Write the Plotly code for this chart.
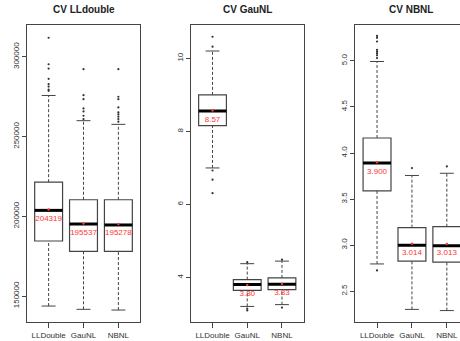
import plotly.graph_objects as go

W, H = 460, 341
categories = ["LLDouble", "GauNL", "NBNL"]
titles = ["CV LLdouble", "CV GauNL", "CV NBNL"]

# Panel 1: CV LLdouble
p1_lo = [143750, 141700, 141250]
p1_q1 = [184560, 178100, 178100]
p1_med = [203750, 195200, 194600]
p1_q3 = [221440, 210400, 210400]
p1_hi = [275800, 260000, 257700]
p1_mean = [204319, 195537, 195278]
p1_mean_labels = ["204319", "195537", "195278"]
p1_out = [
    [278750, 279500, 281400, 282900, 286250, 292700, 295400, 312000],
    [261000, 263100, 265800, 267700, 273500, 276000, 292300],
    [259400, 261000, 262500, 264000, 265200, 268300, 273500, 275000, 292300],
]
p1_ticks = [150000, 200000, 250000, 300000]
p1_ticklabels = ["150000", "200000", "250000", "300000"]

# Panel 2: CV GauNL
p2_lo = [7.0, 3.21, 3.26]
p2_q1 = [8.16, 3.65, 3.67]
p2_med = [8.56, 3.81, 3.82]
p2_q3 = [9.0, 3.945, 3.99]
p2_hi = [10.2, 4.38, 4.45]
p2_mean = [8.57, 3.80, 3.83]
p2_mean_labels = ["8.57", "3.80", "3.83"]
p2_out = [
    [10.59, 10.32, 6.93, 6.68, 6.31],
    [4.42, 3.15, 3.10],
    [4.49, 3.18],
]
p2_ticks = [4, 6, 8, 10]
p2_ticklabels = ["4", "6", "8", "10"]

# Panel 3: CV NBNL
p3_lo = [2.796, 2.303, 2.29]
p3_q1 = [3.59, 2.826, 2.815]
p3_med = [3.891, 3.0, 2.993]
p3_q3 = [4.163, 3.19, 3.20]
p3_hi = [4.993, 3.756, 3.78]
p3_mean = [3.900, 3.014, 3.013]
p3_mean_labels = ["3.900", "3.014", "3.013"]
p3_out = [
    [5.27, 5.25, 5.21, 5.12, 5.10, 5.08, 5.06, 5.03, 2.726],
    [3.836],
    [3.854],
]
p3_ticks = [2.5, 3.0, 3.5, 4.0, 4.5, 5.0]
p3_ticklabels = ["2.5", "3.0", "3.5", "4.0", "4.5", "5.0"]

panels = [
    (p1_lo, p1_q1, p1_med, p1_q3, p1_hi, p1_mean, p1_mean_labels, p1_out, p1_ticks, p1_ticklabels),
    (p2_lo, p2_q1, p2_med, p2_q3, p2_hi, p2_mean, p2_mean_labels, p2_out, p2_ticks, p2_ticklabels),
    (p3_lo, p3_q1, p3_med, p3_q3, p3_hi, p3_mean, p3_mean_labels, p3_out, p3_ticks, p3_ticklabels),
]

# layout geometry (pixels)
x_px = [(27, 140), (191, 303.5), (355.4, 460)]
y_ranges = [[133750, 320000], [2.784, 10.912], [2.166, 5.389]]
x_ranges = [[0.38, 3.62], [0.38, 3.62], [0.38, 0.38 + (460 - 355.4) / 34.9]]
title_x = [83.5, 247, 411]
top_px, bot_px = 25, 322

pos = [1, 2, 3]
BOX_W = 0.8
CAP = 0.2
GRAY = "#444444"
RED = "#ff3333"
FONT = "Liberation Sans, Arial, sans-serif"

fig = go.Figure()
layout = dict(
    width=W, height=H, margin=dict(l=0, r=0, t=0, b=0),
    paper_bgcolor="white", plot_bgcolor="white", showlegend=False,
    font=dict(family=FONT, size=8, color="#333333"),
)
annotations = []

for i, (lo, q1, med, q3, hi, mean, mlab, outs, tv, tt) in enumerate(panels):
    sfx = "" if i == 0 else str(i + 1)
    xa, ya = "x" + sfx, "y" + sfx

    # whiskers (dashed)
    wx, wy = [], []
    for p, a, b, c, d in zip(pos, lo, q1, q3, hi):
        wx += [p, p, None, p, p, None]
        wy += [a, b, None, c, d, None]
    fig.add_trace(go.Scatter(x=wx, y=wy, mode="lines", xaxis=xa, yaxis=ya,
                             line=dict(color=GRAY, width=1, dash="3px,2px"), hoverinfo="skip"))
    # caps
    cx, cy = [], []
    for p, a, d in zip(pos, lo, hi):
        cx += [p - CAP, p + CAP, None, p - CAP, p + CAP, None]
        cy += [a, a, None, d, d, None]
    fig.add_trace(go.Scatter(x=cx, y=cy, mode="lines", xaxis=xa, yaxis=ya,
                             line=dict(color=GRAY, width=1), hoverinfo="skip"))
    # boxes
    fig.add_trace(go.Box(x=pos, q1=q1, median=med, q3=q3, lowerfence=q1, upperfence=q3,
                         width=BOX_W, fillcolor="white", line=dict(color=GRAY, width=1.2),
                         boxpoints=False, xaxis=xa, yaxis=ya, hoverinfo="skip"))
    # thick median
    mx, my = [], []
    for p, m in zip(pos, med):
        mx += [p - BOX_W / 2, p + BOX_W / 2, None]
        my += [m, m, None]
    fig.add_trace(go.Scatter(x=mx, y=my, mode="lines", xaxis=xa, yaxis=ya,
                             line=dict(color="black", width=3), hoverinfo="skip"))
    # outliers
    ox, oy = [], []
    for p, ol in zip(pos, outs):
        ox += [p] * len(ol)
        oy += ol
    fig.add_trace(go.Scatter(x=ox, y=oy, mode="markers", xaxis=xa, yaxis=ya,
                             marker=dict(color="#333333", size=2.2), hoverinfo="skip"))
    # mean labels (below the mean, pushed down by an invisible marker)
    fig.add_trace(go.Scatter(x=pos, y=mean, mode="markers+text", text=mlab,
                             textposition="bottom center", xaxis=xa, yaxis=ya,
                             textfont=dict(color=RED, size=8, family=FONT),
                             marker=dict(size=7, opacity=0), hoverinfo="skip"))
    # mean dots
    fig.add_trace(go.Scatter(x=pos, y=mean, mode="markers", xaxis=xa, yaxis=ya,
                             marker=dict(color=RED, size=2.5), hoverinfo="skip"))

    x0, x1 = x_px[i]
    last = (i == 2)
    layout["xaxis" + sfx] = dict(
        domain=[x0 / W, x1 / W], range=x_ranges[i], anchor=ya,
        tickvals=pos, ticktext=categories, ticks="outside", ticklen=5,
        tickcolor=GRAY, showline=True, linecolor=GRAY, linewidth=1, mirror=True,
        showgrid=False, zeroline=False, tickfont=dict(size=8, color="#333333"),
    )
    layout["yaxis" + sfx] = dict(
        domain=[1 - bot_px / H, 1 - top_px / H], range=y_ranges[i], anchor=xa,
        tickvals=tv, ticktext=tt, ticks="outside", ticklen=4, tickangle=-90,
        tickcolor=GRAY, showline=True, linecolor=GRAY, linewidth=1, mirror=not last,
        showgrid=False, zeroline=False, tickfont=dict(size=8, color="#333333"),
    )
    annotations.append(dict(text="<b>" + titles[i] + "</b>", x=title_x[i] / W, y=1 - 10 / H,
                            xref="paper", yref="paper", showarrow=False,
                            xanchor="center", yanchor="middle",
                            font=dict(size=10, color="#222222", family=FONT)))

layout["annotations"] = annotations
fig.update_layout(**layout)
fig.write_html("out.html", config={"displayModeBar": False},
               post_script="document.body.style.margin='0';document.body.style.overflow='hidden';")
